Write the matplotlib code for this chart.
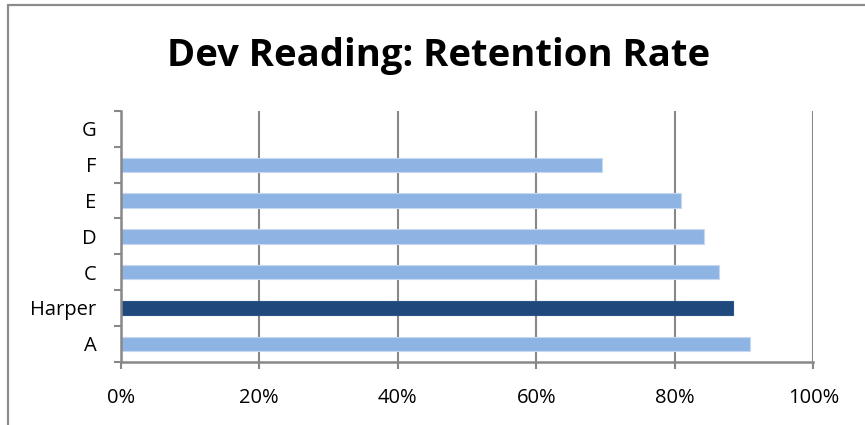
import matplotlib
matplotlib.use("Agg")
import matplotlib.pyplot as plt
from matplotlib.patches import Rectangle
from matplotlib.ticker import FixedLocator, PercentFormatter

categories = ["A", "Harper", "C", "D", "E", "F", "G"]
values = [0.909, 0.884, 0.864, 0.842, 0.809, 0.695, 0.0]
highlight = "Harper"
x_ticks = [0.0, 0.2, 0.4, 0.6, 0.8, 1.0]

LIGHT = "#8EB4E3"
DARK = "#1F497D"
GRID = "#888888"

plt.rcParams["font.family"] = ["Open Sans", "DejaVu Sans"]

fig = plt.figure(figsize=(8.65, 4.25), dpi=100)
fig.patch.set_facecolor("white")

# outer chart border (only top/left visible, cropped at right/bottom)
fig.patches.append(Rectangle((8 / 865, -0.1), 1.2, 1 - 4.5 / 425 + 0.1,
                             transform=fig.transFigure, fill=False,
                             edgecolor="#8C8C8C", linewidth=1.6, zorder=0))

ax = fig.add_axes([120.7 / 865, 1 - 361.7 / 425, (813.3 - 120.7) / 865,
                   (361.7 - 111) / 425])

ypos = list(range(len(categories)))
colors = [DARK if c == highlight else LIGHT for c in categories]
edges = ["#2A5588" if c == highlight else "#C6D9F1" for c in categories]
ax.barh(ypos, values, height=0.4, color=colors, edgecolor=edges,
        linewidth=0.8, zorder=3)

ax.set_xlim(0, 1)
ax.set_ylim(-0.5, len(categories) - 0.5)

ax.xaxis.set_major_locator(FixedLocator(x_ticks))
ax.xaxis.set_major_formatter(PercentFormatter(1.0, decimals=0))
ax.grid(axis="x", color=GRID, linewidth=1.5, zorder=1)
ax.grid(axis="y", visible=False)

ax.set_yticks(ypos)
ax.set_yticklabels(categories)
ax.set_yticks([y - 0.5 for y in range(len(categories) + 1)], minor=True)
ax.tick_params(axis="y", which="major", length=0, pad=17.5, labelsize=14.5)
ax.tick_params(axis="y", which="minor", length=5, width=1.5, color=GRID,
               direction="out")
ax.tick_params(axis="x", which="major", length=5, width=1.5, color=GRID,
               direction="out", pad=14, labelsize=14.5)

for s in ["top", "right"]:
    ax.spines[s].set_visible(False)
for s in ["left", "bottom"]:
    ax.spines[s].set_color(GRID)
    ax.spines[s].set_linewidth(1.8)
    ax.spines[s].set_zorder(4)

fig.text(439 / 865, 1 - 66 / 425, "Dev Reading: Retention Rate", ha="center",
         va="baseline", fontsize=27.5, fontweight="bold", color="black")

fig.savefig("out.png", dpi=100, facecolor="white")
